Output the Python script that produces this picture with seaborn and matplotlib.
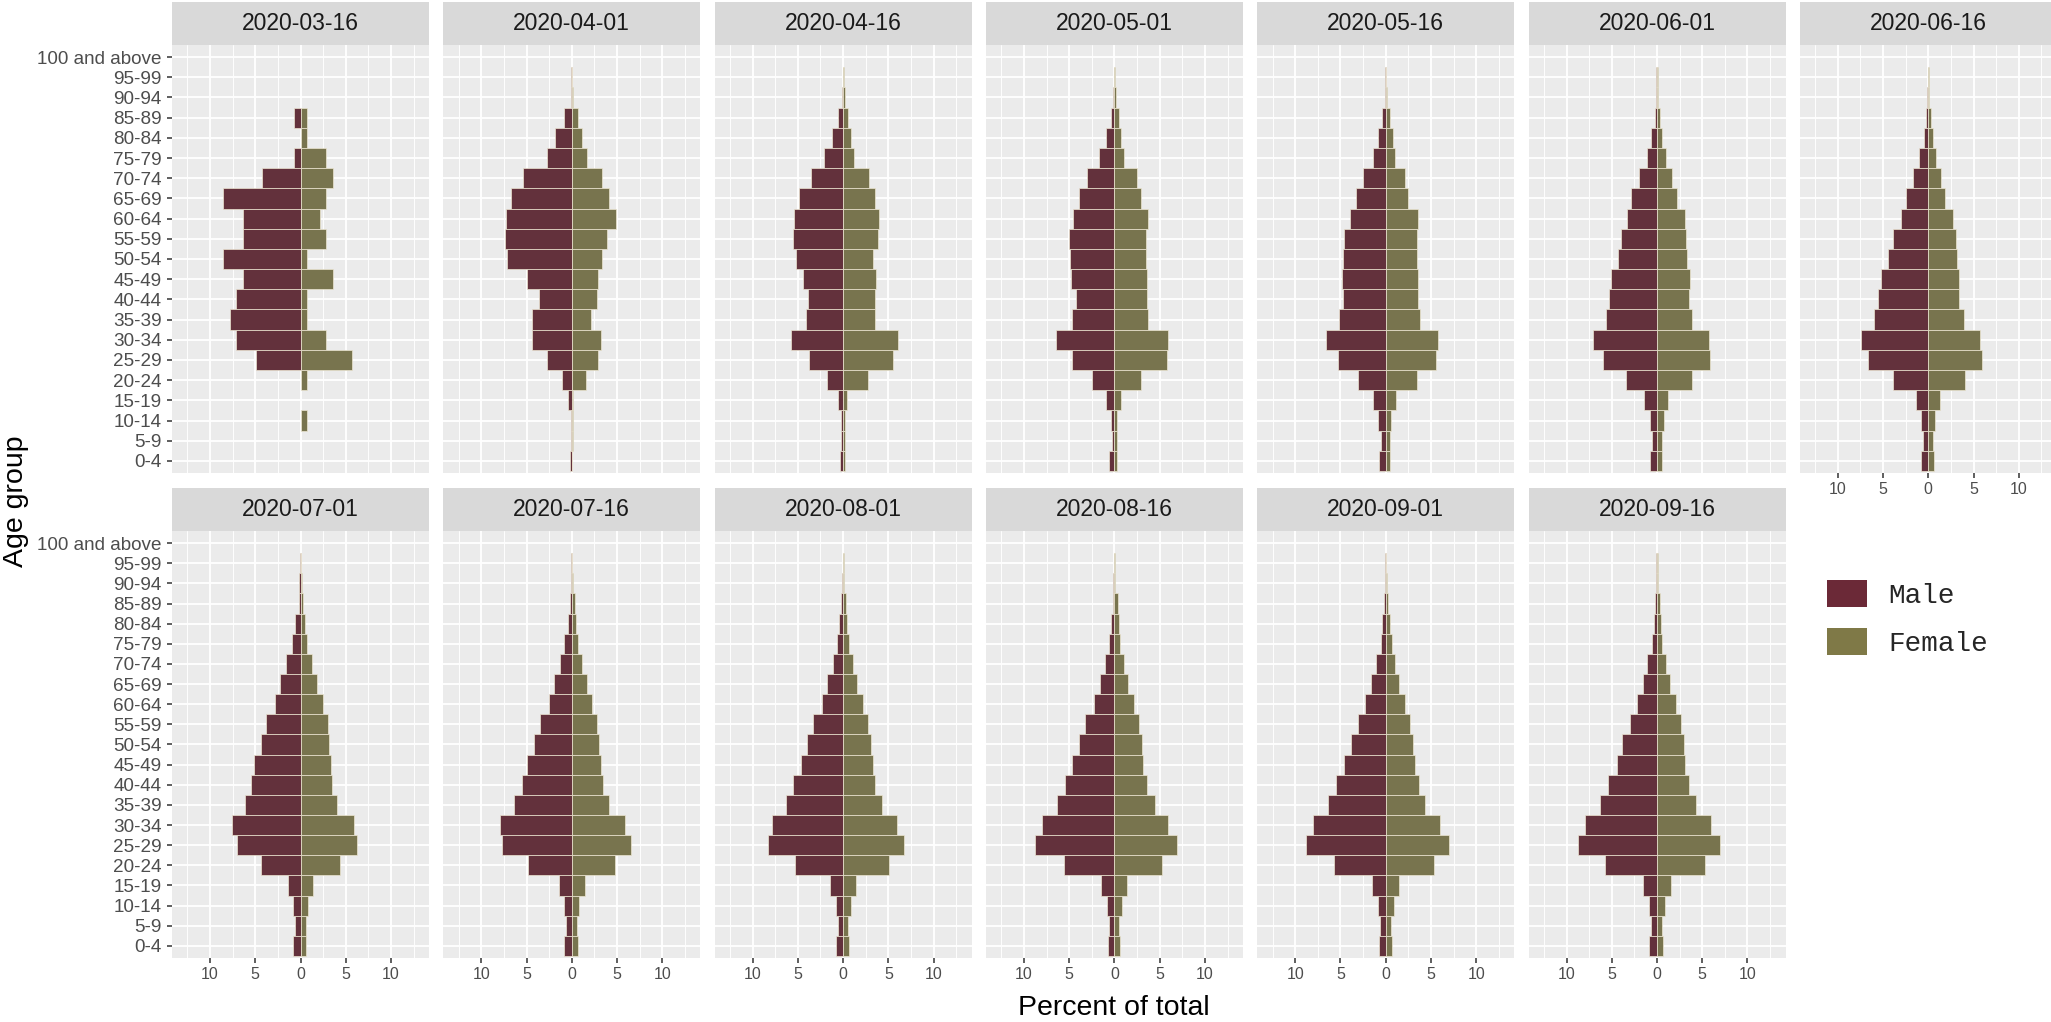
import numpy as np
import pandas as pd
import matplotlib
matplotlib.use("Agg")
import matplotlib.pyplot as plt
from matplotlib.patches import Patch
from matplotlib.ticker import FixedLocator
import seaborn as sns

# ── data (percent of total) ──────────────────────────────────────────────
AGE_GROUPS = ["100 and above", "95-99", "90-94", "85-89", "80-84", "75-79",
              "70-74", "65-69", "60-64", "55-59", "50-54", "45-49", "40-44",
              "35-39", "30-34", "25-29", "20-24", "15-19", "10-14", "5-9", "0-4"]
DATES = ["2020-03-16", "2020-04-01", "2020-04-16", "2020-05-01", "2020-05-16",
         "2020-06-01", "2020-06-16", "2020-07-01", "2020-07-16", "2020-08-01",
         "2020-08-16", "2020-09-01", "2020-09-16"]

M_0316 = [0, 0, 0, 0.71, 0, 0.71, 4.26, 8.51, 6.38, 6.38, 8.51, 6.38, 7.09, 7.80, 7.09, 4.96, 0, 0, 0, 0, 0]
F_0316 = [0, 0, 0, 0.71, 0.71, 2.84, 3.55, 2.84, 2.13, 2.84, 0.71, 3.55, 0.71, 0.71, 2.84, 5.67, 0.71, 0, 0.71, 0, 0]
M_0401 = [0, 0.06, 0.11, 0.83, 1.90, 2.74, 5.40, 6.75, 7.23, 7.34, 7.11, 4.92, 3.65, 4.41, 4.36, 2.78, 1.07, 0.40, 0.08, 0.08, 0.16]
F_0401 = [0, 0.06, 0.11, 0.64, 1.08, 1.71, 3.34, 4.13, 4.88, 3.86, 3.38, 2.89, 2.74, 2.11, 3.25, 2.86, 1.59, 0.11, 0.08, 0.08, 0.06]
M_0416 = [0, 0.06, 0.12, 0.55, 1.27, 2.06, 3.57, 4.85, 5.40, 5.52, 5.24, 4.41, 3.86, 4.13, 5.76, 3.77, 1.75, 0.55, 0.24, 0.19, 0.31]
F_0416 = [0, 0.06, 0.16, 0.52, 0.87, 1.16, 2.82, 3.53, 4.01, 3.81, 3.34, 3.69, 3.50, 3.50, 6.11, 5.52, 2.70, 0.48, 0.16, 0.19, 0.24]
M_0501 = [0, 0.06, 0.16, 0.36, 0.95, 1.71, 2.98, 3.86, 4.57, 5.04, 4.88, 4.76, 4.29, 4.69, 6.44, 4.64, 2.51, 0.92, 0.43, 0.31, 0.59]
F_0501 = [0, 0.06, 0.19, 0.52, 0.76, 1.07, 2.51, 2.94, 3.69, 3.53, 3.46, 3.62, 3.62, 3.69, 5.88, 5.80, 2.94, 0.68, 0.24, 0.24, 0.31]
M_0516 = [0, 0.06, 0.12, 0.36, 0.83, 1.39, 2.46, 3.29, 3.89, 4.57, 4.69, 4.81, 4.69, 5.12, 6.56, 5.28, 3.01, 1.35, 0.80, 0.48, 0.71]
F_0516 = [0, 0.06, 0.16, 0.43, 0.76, 1.04, 2.11, 2.46, 3.53, 3.50, 3.50, 3.57, 3.57, 3.77, 5.83, 5.59, 3.41, 1.16, 0.59, 0.43, 0.43]
M_0601 = [0, 0.06, 0.08, 0.22, 0.66, 1.14, 1.99, 2.83, 3.35, 4.01, 4.30, 5.07, 5.26, 5.63, 7.06, 5.99, 3.46, 1.40, 0.77, 0.51, 0.77]
F_0601 = [0, 0.06, 0.11, 0.33, 0.55, 0.96, 1.65, 2.17, 3.05, 3.24, 3.31, 3.64, 3.49, 3.90, 5.74, 5.81, 3.82, 1.25, 0.74, 0.51, 0.55]
M_0616 = [0, 0.06, 0.11, 0.22, 0.51, 0.99, 1.65, 2.43, 3.02, 3.93, 4.49, 5.18, 5.59, 5.99, 7.43, 6.62, 3.86, 1.40, 0.81, 0.55, 0.81]
F_0616 = [0, 0.06, 0.11, 0.33, 0.51, 0.81, 1.43, 1.88, 2.69, 3.05, 3.20, 3.42, 3.42, 3.93, 5.66, 5.96, 4.04, 1.32, 0.77, 0.48, 0.62]
M_0701 = [0, 0.06, 0.15, 0.20, 0.56, 0.91, 1.57, 2.28, 2.84, 3.86, 4.37, 5.13, 5.48, 6.09, 7.61, 7.00, 4.37, 1.42, 0.86, 0.61, 0.86]
F_0701 = [0, 0.06, 0.15, 0.30, 0.51, 0.76, 1.32, 1.78, 2.49, 3.00, 3.15, 3.35, 3.45, 4.06, 5.89, 6.29, 4.37, 1.37, 0.86, 0.56, 0.61]
M_0716 = [0, 0.06, 0.08, 0.20, 0.46, 0.81, 1.32, 1.93, 2.49, 3.55, 4.21, 4.92, 5.53, 6.40, 7.92, 7.72, 4.82, 1.37, 0.86, 0.61, 0.81]
F_0716 = [0, 0.06, 0.08, 0.30, 0.51, 0.71, 1.17, 1.68, 2.28, 2.74, 3.05, 3.20, 3.40, 4.16, 5.89, 6.50, 4.72, 1.42, 0.81, 0.61, 0.66]
M_0801 = [0, 0.06, 0.10, 0.20, 0.41, 0.66, 1.17, 1.79, 2.35, 3.37, 4.03, 4.69, 5.51, 6.33, 7.91, 8.32, 5.31, 1.43, 0.77, 0.56, 0.77]
F_0801 = [0, 0.06, 0.10, 0.30, 0.46, 0.61, 1.12, 1.58, 2.19, 2.70, 3.06, 3.27, 3.52, 4.29, 5.97, 6.73, 5.10, 1.38, 0.82, 0.56, 0.61]
M_0816 = [0, 0.06, 0.10, 0.15, 0.36, 0.56, 1.07, 1.58, 2.24, 3.21, 3.93, 4.64, 5.51, 6.38, 8.01, 8.72, 5.61, 1.43, 0.82, 0.56, 0.66]
F_0816 = [0, 0.06, 0.10, 0.36, 0.46, 0.61, 1.07, 1.48, 2.14, 2.70, 3.06, 3.21, 3.62, 4.49, 5.97, 6.94, 5.31, 1.38, 0.87, 0.56, 0.66]
M_0901 = [0, 0.06, 0.10, 0.15, 0.36, 0.56, 1.07, 1.58, 2.24, 3.11, 3.88, 4.59, 5.51, 6.33, 8.06, 8.83, 5.71, 1.48, 0.87, 0.66, 0.77]
F_0901 = [0, 0.06, 0.10, 0.30, 0.50, 0.66, 1.07, 1.48, 2.15, 2.69, 3.06, 3.24, 3.65, 4.38, 5.98, 7.03, 5.39, 1.48, 0.92, 0.61, 0.66]
M_0916 = [0, 0.06, 0.14, 0.23, 0.37, 0.55, 1.06, 1.56, 2.21, 3.03, 3.82, 4.46, 5.43, 6.25, 7.91, 8.74, 5.75, 1.56, 0.92, 0.69, 0.83]
F_0916 = [0, 0.06, 0.14, 0.28, 0.46, 0.60, 1.01, 1.43, 2.11, 2.62, 2.99, 3.13, 3.59, 4.32, 5.93, 6.99, 5.33, 1.56, 0.87, 0.60, 0.64]

MALE = [M_0316, M_0401, M_0416, M_0501, M_0516, M_0601, M_0616,
        M_0701, M_0716, M_0801, M_0816, M_0901, M_0916]
FEMALE = [F_0316, F_0401, F_0416, F_0501, F_0516, F_0601, F_0616,
          F_0701, F_0716, F_0801, F_0816, F_0901, F_0916]

X_TICKS = [-10, -5, 0, 5, 10]
X_TICK_LABELS = ["10", "5", "0", "5", "10"]

SEX_COLORS = {"Male": "#6B2937", "Female": "#7F7947"}

rows = []
for date, m, f in zip(DATES, MALE, FEMALE):
    for age, mv, fv in zip(AGE_GROUPS, m, f):
        if mv > 0:
            rows.append((date, age, "Male", -mv))
        if fv > 0:
            rows.append((date, age, "Female", fv))
df = pd.DataFrame(rows, columns=["date", "age", "sex", "pct"])

# ── style ────────────────────────────────────────────────────────────────
sns.set_theme(style="darkgrid", rc={"axes.facecolor": "#EBEBEB",
                                    "grid.color": "white"})
plt.rcParams["font.family"] = ["Liberation Sans", "DejaVu Sans"]

W, H = 2051, 1022
fig = plt.figure(figsize=(W / 100, H / 100), dpi=100)
fig.patch.set_facecolor("white")


def rect(x0, top, w, h):
    return [x0 / W, 1 - (top + h) / H, w / W, h / H]


PANEL_W = 257
COL_PITCH = 271.3
ROW_TOPS = [2, 488]   # strip tops
STRIP_H = 43
PANEL_H = [428, 427]

for i, date in enumerate(DATES):
    r, c = divmod(i, 7)
    x0 = 172 + c * COL_PITCH
    strip_top = ROW_TOPS[r]
    panel_top = strip_top + STRIP_H

    # strip
    sax = fig.add_axes(rect(x0, strip_top, PANEL_W, STRIP_H))
    sax.set_facecolor("#D9D9D9")
    sax.set_xticks([]); sax.set_yticks([])
    sax.grid(False)
    for s in sax.spines.values():
        s.set_visible(False)
    sax.text(0.5, 0.5, date, ha="center", va="center", fontsize=16.5,
             color="#1A1A1A", transform=sax.transAxes)

    # panel
    ax = fig.add_axes(rect(x0, panel_top, PANEL_W, PANEL_H[r]))
    sub = df[df["date"] == date]
    sns.barplot(data=sub, x="pct", y="age", hue="sex", order=AGE_GROUPS,
                hue_order=["Male", "Female"], palette=SEX_COLORS,
                dodge=False, width=1.0, errorbar=None, orient="h",
                edgecolor="#EDE6D2", linewidth=0.5, legend=False, ax=ax)
    ax.set_xlim(-14.2, 14.2)
    ax.set_ylim(len(AGE_GROUPS) - 0.4, -0.6)
    ax.set_xticks(X_TICKS)
    ax.set_xticklabels(X_TICK_LABELS)
    ax.xaxis.set_minor_locator(FixedLocator([-12.5, -7.5, -2.5, 2.5, 7.5, 12.5]))
    ax.set_axisbelow(True)
    ax.grid(which="major", color="white", linewidth=1.3)
    ax.grid(which="minor", axis="x", color="white", linewidth=0.65)
    ax.set_xlabel(""); ax.set_ylabel("")
    for s in ax.spines.values():
        s.set_visible(False)

    ax.tick_params(axis="x", which="major", bottom=True, length=3.6, width=1.1,
                   color="#333333", labelcolor="#4D4D4D", labelsize=11.5, pad=3)
    ax.tick_params(axis="x", which="minor", bottom=False)
    ax.tick_params(axis="y", left=True, length=3.6, width=1.1,
                   color="#333333", labelcolor="#4D4D4D", labelsize=13.6, pad=4)

    show_x = (r == 1) or (c == 6)
    if not show_x:
        ax.tick_params(axis="x", which="major", bottom=False, labelbottom=False)
    if c != 0:
        ax.tick_params(axis="y", left=False, labelleft=False)

# axis titles
fig.text(1114 / W, 1 - 1008 / H, "Percent of total", ha="center", va="center",
         fontsize=20.5, color="black")
fig.text(16 / W, 1 - 501 / H, "Age group", ha="center", va="center",
         rotation=90, fontsize=20.5, color="black")

# legend
handles = [Patch(facecolor=SEX_COLORS["Male"], edgecolor="none", label="Male"),
           Patch(facecolor=SEX_COLORS["Female"], edgecolor="none", label="Female")]
fig.legend(handles=handles, loc="upper left",
           bbox_to_anchor=(1827 / W, 1 - 580 / H), frameon=False,
           prop={"family": ["Liberation Mono", "DejaVu Sans Mono"], "size": 20},
           handlelength=1.45, handleheight=1.1, handletextpad=0.75,
           labelspacing=0.7, borderpad=0, borderaxespad=0)

fig.savefig("out.png", dpi=100)
